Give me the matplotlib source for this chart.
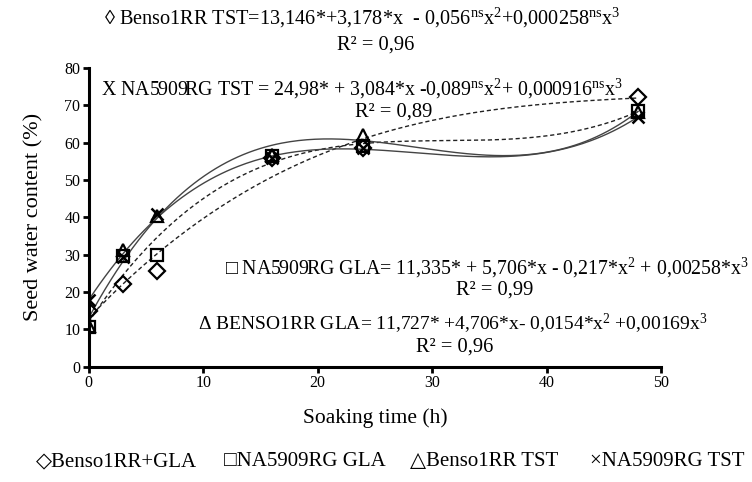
import numpy as np
import matplotlib
matplotlib.use("Agg")
from matplotlib import pyplot as plt

plt.rcParams['font.family'] = ['Liberation Serif', 'DejaVu Serif']
plt.rcParams['mathtext.fontset'] = 'custom'
plt.rcParams['mathtext.rm'] = 'Liberation Serif'
plt.rcParams['mathtext.it'] = 'Liberation Serif:italic'

# soaking time (h)
hours = [0, 3, 6, 16, 24, 48]

# seed water content (%)
benso_gla = [14.9, 22.3, 25.6, 56.0, 58.5, 72.1]
na_gla = [10.6, 29.6, 30.0, 56.4, 59.1, 68.4]
benso_tst = [10.8, 31.4, 40.4, 56.6, 62.0, 68.3]
na_tst = [18.0, 29.5, 41.0, 55.8, 58.5, 66.9]

series = [
    (benso_gla, 'D', (0, (3, 2)), '#222222'),
    (na_gla, 's', (0, (3, 2)), '#222222'),
    (benso_tst, '^', '-', '#444444'),
    (na_tst, 'x', '-', '#444444'),
]

fig = plt.figure(figsize=(7.52, 4.82), dpi=100)
ax = fig.add_axes([0.118, 0.239, 0.761, 0.620])

xs = np.linspace(0, 48, 200)
for vals, marker, ls, col in series:
    # 3rd order trend line, as in the original
    coef = np.polyfit(hours, vals, 3)
    ax.plot(xs, np.polyval(coef, xs), linestyle=ls, color=col, lw=1.0, zorder=2)
    if marker == 'x':
        ax.plot(hours, vals, linestyle='none', marker=marker, ms=9, mew=1.8,
                color='black', zorder=3)
    else:
        ax.plot(hours, vals, linestyle='none', marker=marker, ms=9 if marker != 'D' else 8,
                mew=1.6, mfc='none', mec='black', zorder=3)

ax.set_xlim(0, 50)
ax.set_ylim(0, 80)
ax.set_xticks(range(0, 51, 10))
ax.set_yticks(range(0, 81, 10))
for side in ['top', 'right']:
    ax.spines[side].set_visible(False)
for side in ['left', 'bottom']:
    ax.spines[side].set_linewidth(2.2)
ax.tick_params(direction='out', width=2, length=4, labelsize=11.5, pad=2)
ax.set_ylabel('Seed water content (%)', fontsize=16, labelpad=15)
ax.set_xlabel('Soaking time (h)', fontsize=15.5, labelpad=12)

fig.text(0.482, 0.962,
         r'◊ Benso1RR TST=13,146*+3,178*x  - 0,056$^{\mathregular{ns}}$x$^{\mathregular{2}}$'
         r'+0,000258$^{\mathregular{ns}}$x$^{\mathregular{3}}$',
         fontsize=14.6, ha='center', va='center')
fig.text(0.500, 0.907, 'R² = 0,96', fontsize=14.8, ha='center', va='center')
fig.text(0.481, 0.815,
         r'X NA5909RG TST = 24,98* + 3,084*x -0,089$^{\mathregular{ns}}$x$^{\mathregular{2}}$'
         r'+ 0,000916$^{\mathregular{ns}}$x$^{\mathregular{3}}$',
         fontsize=14.3, ha='center', va='center')
fig.text(0.523, 0.767, 'R² = 0,89', fontsize=14.8, ha='center', va='center')
fig.text(0.648, 0.444,
         r'□ NA5909RG GLA= 11,335* + 5,706*x - 0,217*x$^{\mathregular{2}}$ + 0,00258*x$^{\mathregular{3}}$',
         fontsize=14.3, ha='center', va='center')
fig.text(0.658, 0.398, 'R² = 0,99', fontsize=14.8, ha='center', va='center')
fig.text(0.602, 0.328,
         r'Δ BENSO1RR GLA= 11,727* +4,706*x- 0,0154*x$^{\mathregular{2}}$ +0,00169x$^{\mathregular{3}}$',
         fontsize=14.0, ha='center', va='center')
fig.text(0.605, 0.281, 'R² = 0,96', fontsize=14.8, ha='center', va='center')

leg_labels = ['◇Benso1RR+GLA', '□NA5909RG GLA', '△Benso1RR TST', '×NA5909RG TST']
leg_x = [0.048, 0.298, 0.545, 0.785]
for lx, lab in zip(leg_x, leg_labels):
    fig.text(lx, 0.042, lab, fontsize=15, ha='left', va='center')

fig.savefig('out.png', dpi=100)
